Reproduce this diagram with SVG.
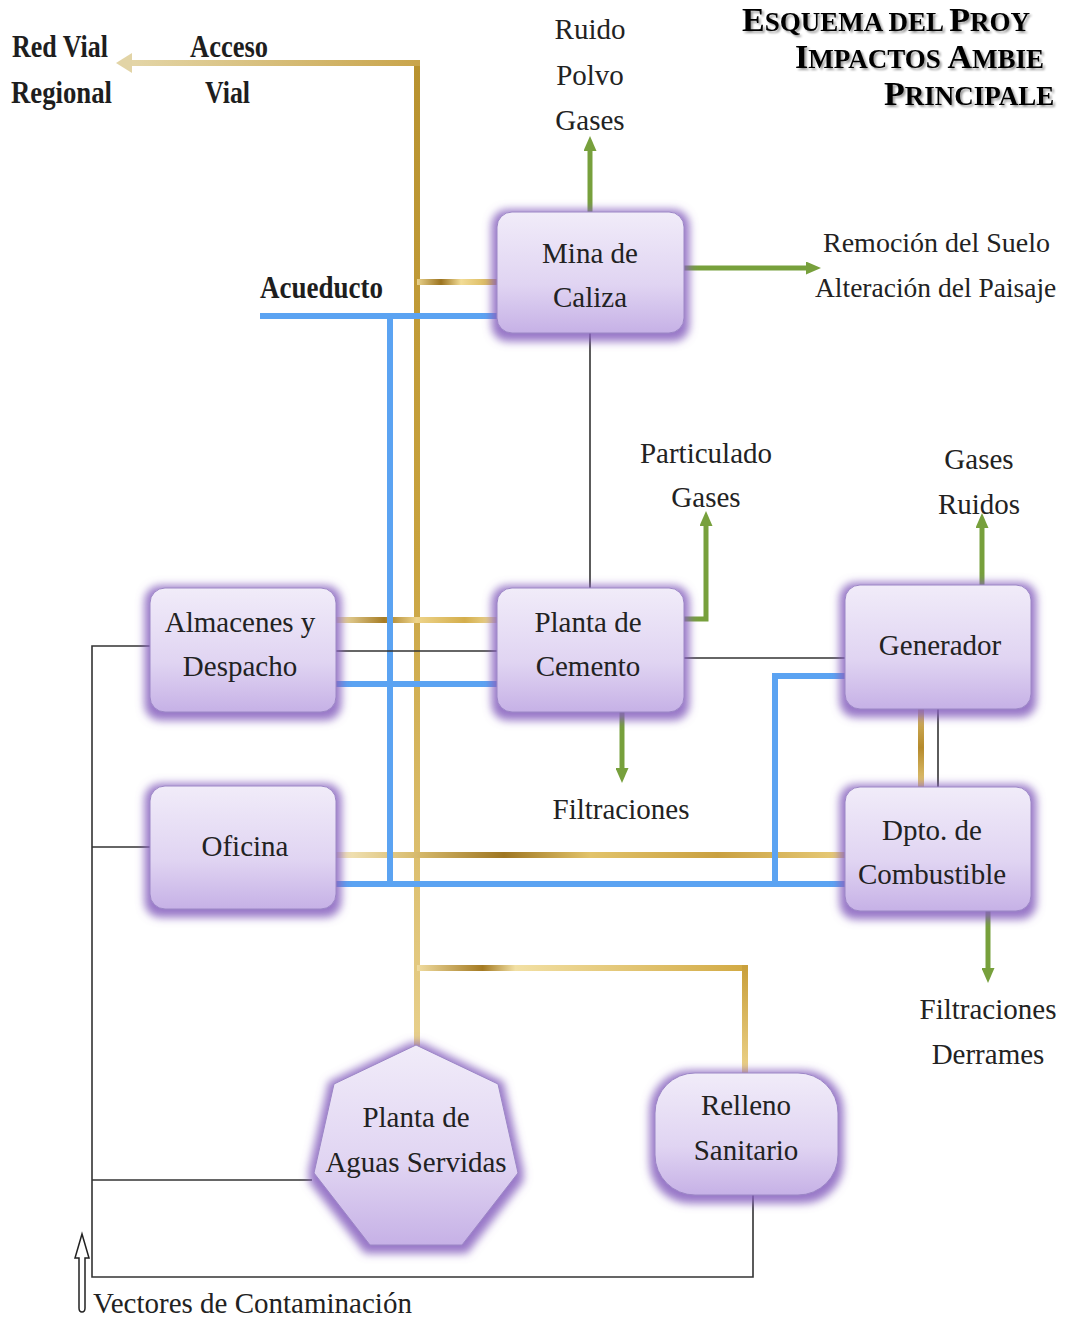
<svg xmlns="http://www.w3.org/2000/svg" width="1065" height="1321" viewBox="0 0 1065 1321">
<defs>
<style>
.lbl{font-family:"Liberation Serif","Times New Roman",serif;font-size:29px;fill:#222;}
.nd{font-family:"Liberation Serif","Times New Roman",serif;font-size:29px;fill:#222;text-anchor:middle;}
.bold{font-family:"Liberation Serif","Times New Roman",serif;font-weight:bold;font-size:32px;fill:#1e1e1e;}
.title{font-family:"Liberation Serif","Times New Roman",serif;font-weight:bold;fill:#000;}
.box{fill:url(#nodeFill);stroke:#9c86c6;stroke-width:1;filter:url(#glow);}
.gold{fill:none;stroke-width:6;}
.blue{fill:none;stroke:#5ba3f2;stroke-width:6;}
.blk{fill:none;stroke:#333;stroke-width:1.6;}
.grn{fill:none;stroke:#77a03c;stroke-width:5;marker-end:url(#garrow);}
</style>
<linearGradient id="nodeFill" x1="0" y1="0" x2="0" y2="1">
<stop offset="0" stop-color="#f1ecf9"/>
<stop offset="0.6" stop-color="#e0d4f2"/>
<stop offset="1" stop-color="#c6b1e6"/>
</linearGradient>
<linearGradient id="gV" gradientUnits="userSpaceOnUse" x1="0" y1="63" x2="0" y2="1047">
<stop offset="0" stop-color="#b8922f"/>
<stop offset="0.5" stop-color="#c9a33e"/>
<stop offset="1" stop-color="#e8d08c"/>
</linearGradient>
<linearGradient id="gTop" gradientUnits="userSpaceOnUse" x1="128" y1="0" x2="417" y2="0">
<stop offset="0" stop-color="#e4d6a8"/>
<stop offset="1" stop-color="#c9a54c"/>
</linearGradient>
<linearGradient id="gMina" gradientUnits="userSpaceOnUse" x1="417" y1="0" x2="497" y2="0">
<stop offset="0" stop-color="#e9d28c"/>
<stop offset="0.3" stop-color="#9c7420"/>
<stop offset="0.55" stop-color="#f2dc96"/>
<stop offset="1" stop-color="#d2ac4a"/>
</linearGradient>
<linearGradient id="gAlm" gradientUnits="userSpaceOnUse" x1="336" y1="0" x2="497" y2="0">
<stop offset="0" stop-color="#f3e3b0"/>
<stop offset="0.3" stop-color="#a67c24"/>
<stop offset="0.5" stop-color="#eed48a"/>
<stop offset="0.8" stop-color="#d4ae4c"/>
<stop offset="1" stop-color="#f0dca0"/>
</linearGradient>
<linearGradient id="gOf" gradientUnits="userSpaceOnUse" x1="336" y1="0" x2="845" y2="0">
<stop offset="0" stop-color="#f5e8c0"/>
<stop offset="0.15" stop-color="#d9bd70"/>
<stop offset="0.33" stop-color="#9e7622"/>
<stop offset="0.5" stop-color="#e2c36a"/>
<stop offset="0.75" stop-color="#c9a040"/>
<stop offset="1" stop-color="#e8cc7a"/>
</linearGradient>
<linearGradient id="gRel" gradientUnits="userSpaceOnUse" x1="417" y1="0" x2="745" y2="0">
<stop offset="0" stop-color="#f0dca0"/>
<stop offset="0.2" stop-color="#a47a22"/>
<stop offset="0.3" stop-color="#f2e0a4"/>
<stop offset="1" stop-color="#d2aa44"/>
</linearGradient>
<linearGradient id="gRelV" gradientUnits="userSpaceOnUse" x1="0" y1="968" x2="0" y2="1073">
<stop offset="0" stop-color="#c9a03c"/>
<stop offset="1" stop-color="#ecd28a"/>
</linearGradient>
<linearGradient id="gGen" gradientUnits="userSpaceOnUse" x1="0" y1="708" x2="0" y2="787">
<stop offset="0" stop-color="#d9bb6a"/>
<stop offset="0.5" stop-color="#b58a2c"/>
<stop offset="1" stop-color="#e4c878"/>
</linearGradient>
<filter id="glow" x="-25%" y="-25%" width="150%" height="160%">
<feMorphology in="SourceAlpha" operator="dilate" radius="5" result="d"/>
<feGaussianBlur in="d" stdDeviation="4" result="b"/>
<feOffset in="b" dy="3" result="o"/>
<feFlood flood-color="#8660be" flood-opacity="0.85"/>
<feComposite in2="o" operator="in" result="g"/>
<feMerge><feMergeNode in="g"/><feMergeNode in="SourceGraphic"/></feMerge>
</filter>
<filter id="tsh" x="-5%" y="-20%" width="110%" height="150%">
<feGaussianBlur in="SourceAlpha" stdDeviation="1" result="b"/>
<feOffset in="b" dx="1.5" dy="1.5" result="o"/>
<feComponentTransfer in="o" result="s"><feFuncA type="linear" slope="0.4"/></feComponentTransfer>
<feMerge><feMergeNode in="s"/><feMergeNode in="SourceGraphic"/></feMerge>
</filter>
<marker id="garrow" markerUnits="userSpaceOnUse" markerWidth="15" markerHeight="13" refX="4" refY="6.5" orient="auto">
<path d="M0,0 L15,6.5 L0,13 z" fill="#77a03c"/>
</marker>
<marker id="yarrow" markerUnits="userSpaceOnUse" markerWidth="16" markerHeight="20" refX="4" refY="10" orient="auto">
<path d="M0,0 L16,10 L0,20 z" fill="#e2d4a6"/>
</marker>
</defs>
<rect width="1065" height="1321" fill="#fff"/>

<g id="title" filter="url(#tsh)">
<text class="title" x="742" y="31"><tspan font-size="34">E</tspan><tspan font-size="27">SQUEMA DEL </tspan><tspan font-size="34">P</tspan><tspan font-size="27">ROY</tspan></text>
<text class="title" x="795" y="68"><tspan font-size="34">I</tspan><tspan font-size="27">MPACTOS </tspan><tspan font-size="34">A</tspan><tspan font-size="27">MBIE</tspan></text>
<text class="title" x="884" y="105"><tspan font-size="34">P</tspan><tspan font-size="27">RINCIPALE</tspan></text>
</g>

<g id="connectors">
<!-- gold access road -->
<path d="M417,1047 L417,63" fill="none" stroke="url(#gV)" stroke-width="6"/>
<path d="M420,63 L128,63" fill="none" stroke="url(#gTop)" stroke-width="6" marker-end="url(#yarrow)"/>
<path class="gold" stroke="url(#gMina)" d="M417,282 L497,282"/>
<path class="gold" stroke="url(#gAlm)" d="M336,620 L497,620"/>
<path class="gold" stroke="url(#gOf)" d="M336,855 L845,855"/>
<path class="gold" stroke="url(#gRel)" d="M417,968 L748,968"/>
<path class="gold" stroke="url(#gRelV)" d="M745,965 L745,1073"/>
<path class="gold" stroke="url(#gGen)" d="M921,708 L921,787"/>
<!-- blue water -->
<path class="blue" d="M260,316 L497,316"/>
<path class="blue" d="M390,316 L390,884"/>
<path class="blue" d="M336,684 L497,684"/>
<path class="blue" d="M336,884 L845,884"/>
<path class="blue" d="M775,884 L775,676 L845,676"/>
<!-- black lines -->
<path class="blk" d="M590,333 L590,588"/>
<path class="blk" d="M336,651 L497,651"/>
<path class="blk" d="M684,658 L845,658"/>
<path class="blk" d="M938,708 L938,787"/>
<path class="blk" d="M150,646 L92,646 L92,1277 L753,1277 L753,1195"/>
<path class="blk" d="M92,847 L150,847"/>
<path class="blk" d="M92,1180 L312,1180"/>
<!-- green impact arrows -->
<path class="grn" d="M590,212 L590,147"/>
<path class="grn" d="M684,268 L810,268"/>
<path class="grn" d="M684,619 L706,619 L706,522"/>
<path class="grn" d="M622,712 L622,772"/>
<path class="grn" d="M982,585 L982,524"/>
<path class="grn" d="M988,910 L988,972"/>
<!-- hollow legend arrow -->
<path d="M82,1234 L89,1258 L85,1258 L85,1308 Q85,1312 82,1312 Q79,1312 79,1308 L79,1258 L75,1258 Z" fill="#fff" stroke="#222" stroke-width="1.5"/>
</g>

<g id="mina">
<rect class="box" x="497" y="212" width="187" height="121" rx="15"/>
<text class="nd" x="590" y="263">Mina de</text>
<text class="nd" x="590" y="307">Caliza</text>
</g>
<g id="almacenes">
<rect class="box" x="150" y="588" width="186" height="124" rx="15"/>
<text class="nd" x="240" y="632">Almacenes y</text>
<text class="nd" x="240" y="676">Despacho</text>
</g>
<g id="planta-cemento">
<rect class="box" x="497" y="588" width="187" height="124" rx="15"/>
<text class="nd" x="588" y="632">Planta de</text>
<text class="nd" x="588" y="676">Cemento</text>
</g>
<g id="generador">
<rect class="box" x="845" y="585" width="186" height="124" rx="15"/>
<text class="nd" x="940" y="655">Generador</text>
</g>
<g id="oficina">
<rect class="box" x="150" y="786" width="186" height="123" rx="15"/>
<text class="nd" x="245" y="856">Oficina</text>
</g>
<g id="dpto-combustible">
<rect class="box" x="845" y="787" width="186" height="124" rx="15"/>
<text class="nd" x="932" y="840">Dpto. de</text>
<text class="nd" x="932" y="884">Combustible</text>
</g>
<g id="planta-aguas">
<polygon class="box" points="416,1045 498,1084 518,1173 462,1245 370,1245 314,1173 334,1084"/>
<text class="nd" x="416" y="1127">Planta de</text>
<text class="nd" x="416" y="1172">Aguas Servidas</text>
</g>
<g id="relleno">
<rect class="box" x="655" y="1073" width="183" height="122" rx="40"/>
<text class="nd" x="746" y="1115">Relleno</text>
<text class="nd" x="746" y="1160">Sanitario</text>
</g>

<g id="labels">
<text class="bold" x="12" y="57" textLength="96" lengthAdjust="spacingAndGlyphs">Red Vial</text>
<text class="bold" x="11" y="103" textLength="101" lengthAdjust="spacingAndGlyphs">Regional</text>
<text class="bold" x="190" y="57" textLength="78" lengthAdjust="spacingAndGlyphs">Acceso</text>
<text class="bold" x="205" y="103" textLength="45" lengthAdjust="spacingAndGlyphs">Vial</text>
<text class="bold" x="260" y="298" textLength="123" lengthAdjust="spacingAndGlyphs">Acueducto</text>
<text class="nd" x="590" y="39">Ruido</text>
<text class="nd" x="590" y="85">Polvo</text>
<text class="nd" x="590" y="130">Gases</text>
<text class="lbl" x="823" y="252" style="font-size:28px">Remoción del Suelo</text>
<text class="lbl" x="815" y="297" style="font-size:27.5px">Alteración del Paisaje</text>
<text class="nd" x="706" y="463">Particulado</text>
<text class="nd" x="706" y="507">Gases</text>
<text class="nd" x="979" y="469">Gases</text>
<text class="nd" x="979" y="514">Ruidos</text>
<text class="nd" x="621" y="819">Filtraciones</text>
<text class="nd" x="988" y="1019">Filtraciones</text>
<text class="nd" x="988" y="1064">Derrames</text>
<text class="lbl" x="93" y="1313">Vectores de Contaminación</text>
</g>
</svg>
